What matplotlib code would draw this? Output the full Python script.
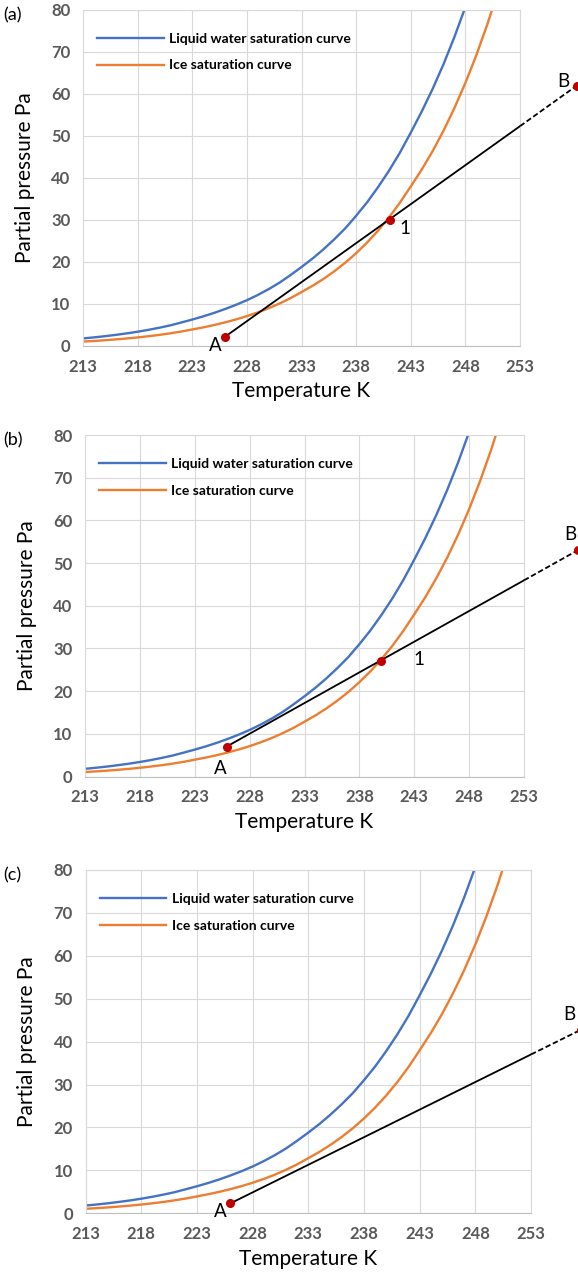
import numpy as np
import matplotlib
matplotlib.use("Agg")
import matplotlib.pyplot as plt

plt.rcParams['font.family'] = ['Lato', 'DejaVu Sans']

# saturation curves (Pa)
temp = [213, 214, 215, 216, 217, 218, 219, 220, 221, 222, 223, 224, 225, 226,
        227, 228, 229, 230, 231, 232, 233, 234, 235, 236, 237, 238, 239, 240,
        241, 242, 243, 244, 245, 246, 247, 248, 249, 250, 251]
liquid = [1.8, 2.05, 2.33, 2.65, 3.0, 3.4, 3.85, 4.36, 4.92, 5.6, 6.3, 7.05, 7.88,
          8.8, 9.8, 10.9, 12.15, 13.55, 15.1, 16.9, 18.8, 20.8, 23.0, 25.4, 28.0,
          31.0, 34.2, 37.8, 41.7, 46.0, 50.8, 55.8, 61.2, 67.1, 73.6, 80.7, 88.5,
          97.0, 106.0]
ice = [1.05, 1.2, 1.37, 1.57, 1.79, 2.04, 2.33, 2.65, 3.02, 3.44, 3.94, 4.43,
       4.99, 5.62, 6.32, 7.11, 8.0, 9.0, 10.13, 11.4, 12.84, 14.31, 15.95, 17.78,
       19.82, 22.09, 24.62, 27.44, 30.59, 34.09, 37.98, 41.98, 46.39, 51.27,
       56.67, 62.63, 69.22, 76.5, 84.55]

# process lines A -> B for the three cases
panel_labels = ['(a)', '(b)', '(c)']
point_a = [(226.0, 2.2), (225.9, 7.0), (226.0, 2.3)]
point_b = [(258.2, 62.0), (257.9, 53.0), (257.5, 42.8)]
point_1 = [(241.1, 30.0), (240.0, 27.0), None]

xticks = list(range(213, 254, 5))
yticks = list(range(0, 81, 10))

blue = '#4472C4'
orange = '#ED7D31'
tick_col = '#595959'
grid_col = '#D9D9D9'

fig = plt.figure(figsize=(5.78, 12.76), dpi=100)
W, H = 578, 1276
# axes boxes in pixels: left, top, right, bottom
boxes = [(83, 10, 520, 346), (85, 435, 524, 776.5), (85.5, 870, 531, 1213.3)]
# label offsets (dx, dy) in data units for A, B, 1
a_off = [(-0.3, -2.0), (0.0, -5.2), (-0.3, -1.8)]
b_off = [(-0.7, 0.9), (-0.1, 3.8), (-0.5, 3.5)]
one_off = [(0.9, -2.0), (2.9, 0.4), None]

for i, (l, t, r, b) in enumerate(boxes):
    ax = fig.add_axes([l / W, 1 - b / H, (r - l) / W, (b - t) / H])
    ax.set_xlim(213, 253)
    ax.set_ylim(0, 80)
    ax.set_xticks(xticks)
    ax.set_yticks(yticks)
    ax.grid(True, color=grid_col, linewidth=0.8)
    ax.set_axisbelow(True)
    for side in ['top', 'right', 'left']:
        ax.spines[side].set_color(grid_col)
        ax.spines[side].set_linewidth(0.8)
    ax.spines['bottom'].set_color('#BFBFBF')
    ax.spines['bottom'].set_linewidth(0.8)
    ax.tick_params(length=0, pad=9, labelsize=12, labelcolor=tick_col)
    for lab in ax.get_xticklabels() + ax.get_yticklabels():
        lab.set_fontweight('bold')

    ax.plot(temp, liquid, color=blue, linewidth=1.7, label='Liquid water saturation curve')
    ax.plot(temp, ice, color=orange, linewidth=1.7, label='Ice saturation curve')

    (xa, ya), (xb, yb) = point_a[i], point_b[i]
    y_edge = ya + (yb - ya) * (253 - xa) / (xb - xa)
    ax.plot([xa, 253], [ya, y_edge], color='black', linewidth=1.3, zorder=4)
    ax.plot([253, xb], [y_edge, yb], color='black', linewidth=1.3,
            linestyle=(0, (3, 1.5)), clip_on=False, zorder=4)
    ax.plot([xa], [ya], 'o', color='#C00000', markersize=5.5, zorder=5, clip_on=False)
    ax.plot([xb], [yb], 'o', color='#C00000', markersize=5.5, zorder=5, clip_on=False)
    ax.text(xa + a_off[i][0], ya + a_off[i][1], 'A', fontsize=13.5, ha='right',
            va='center', clip_on=False)
    ax.text(xb + b_off[i][0], yb + b_off[i][1], 'B', fontsize=13.5, ha='right',
            va='center', clip_on=False)
    if point_1[i] is not None:
        x1, y1 = point_1[i]
        ax.plot([x1], [y1], 'o', color='#C00000', markersize=5.5, zorder=5)
        ax.text(x1 + one_off[i][0], y1 + one_off[i][1], '1', fontsize=13.5,
                ha='left', va='center')

    ax.set_xlabel('Temperature K', fontsize=15, labelpad=5)
    ax.set_ylabel('Partial pressure Pa', fontsize=15, labelpad=12)

    ax.legend(loc='upper left', bbox_to_anchor=(0.032, 0.932), frameon=False,
              borderpad=0, borderaxespad=0, handlelength=4.8, handletextpad=0.4,
              labelspacing=1.05, prop={'weight': 'bold', 'size': 10})

    fig.text(3 / W, 1 - (t + 5) / H, panel_labels[i], fontsize=13, ha='left', va='center')

fig.savefig('out.png', dpi=100)
